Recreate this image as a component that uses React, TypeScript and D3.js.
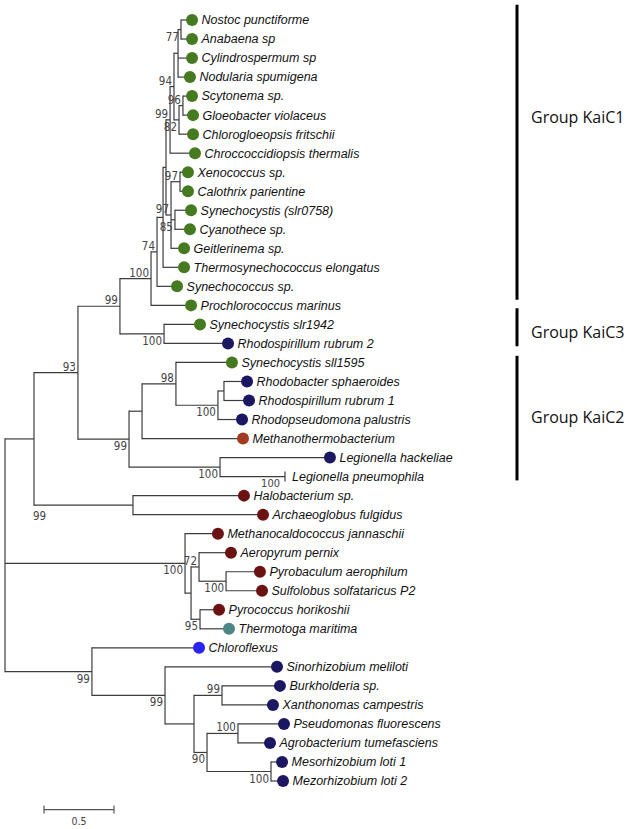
import React from "react";
import * as d3 from "d3";

// ---------- DATA ----------
const taxa = [
  "Nostoc punctiforme", "Anabaena sp", "Cylindrospermum sp", "Nodularia spumigena",
  "Scytonema sp.", "Gloeobacter violaceus", "Chlorogloeopsis fritschii", "Chroccoccidiopsis thermalis",
  "Xenococcus sp.", "Calothrix parientine", "Synechocystis (slr0758)", "Cyanothece sp.",
  "Geitlerinema sp.", "Thermosynechococcus elongatus", "Synechococcus sp.", "Prochlorococcus marinus",
  "Synechocystis slr1942", "Rhodospirillum rubrum 2", "Synechocystis sll1595", "Rhodobacter sphaeroides",
  "Rhodospirillum rubrum 1", "Rhodopseudomona palustris", "Methanothermobacterium", "Legionella hackeliae",
  "Legionella pneumophila", "Halobacterium sp.", "Archaeoglobus fulgidus", "Methanocaldococcus jannaschii",
  "Aeropyrum pernix", "Pyrobaculum aerophilum", "Sulfolobus solfataricus P2", "Pyrococcus horikoshii",
  "Thermotoga maritima", "Chloroflexus", "Sinorhizobium meliloti", "Burkholderia sp.",
  "Xanthonomas campestris", "Pseudomonas fluorescens", "Agrobacterium tumefasciens", "Mesorhizobium loti 1",
  "Mezorhizobium loti 2",
];
const taxonParent = [
  "NA", "NA", "C1", "C1", "SG", "SG", "N82", "N99t", "XC", "XC", "SC", "SC", "G", "T", "N74", "N100",
  "K3", "K3", "N98", "RR", "RR", "N100c", "N142", "Leg", "Leg", "H", "H", "P", "S", "T2", "T2",
  "N95", "N95", "B", "C", "BX", "BX", "PA", "PA", "M", "M",
];
// distance from root to each tip (substitutions per site)
const tipDepth = [
  1.336, 1.336, 1.336, 1.321, 1.336, 1.343, 1.343, 1.357, 1.307, 1.307, 1.329, 1.321, 1.279, 1.279,
  1.229, 1.329, 1.393, 1.593, 1.621, 1.729, 1.743, 1.693, 1.7, 2.321, 2.0, 1.707, 1.843, 1.521,
  1.614, 1.821, 1.836, 1.529, 1.6, 1.386, 1.943, 1.964, 1.914, 1.993, 1.893, 1.979, 1.986,
];
// c cyanobacteria, p proteobacteria, a archaea, m methanothermobacterium, t thermotoga, f chloroflexus, n none
const taxonKind = [
  "c", "c", "c", "c", "c", "c", "c", "c", "c", "c", "c", "c", "c", "c", "c", "c",
  "c", "p", "c", "p", "p", "p", "m", "p", "n", "a", "a", "a", "a", "a", "a",
  "a", "t", "f", "p", "p", "p", "p", "p", "p", "p",
];

const nodeId = [
  "root", "A", "N93", "N99a", "N100", "N74", "T", "K", "N99t", "N94", "C1", "NA", "N82", "SG",
  "G", "XC", "SC", "K3", "N99b", "N142", "N98", "N100c", "RR", "Leg", "H", "P", "X", "S", "T2",
  "N95", "B", "C", "D", "BX", "E", "PA", "M",
];
const nodeParent = [
  "", "root", "A", "N93", "N99a", "N100", "N74", "T", "K", "N99t", "N94", "C1", "N94", "N82",
  "K", "G", "G", "N99a", "N93", "N99b", "N142", "N98", "N100c", "N99b", "A", "root", "P", "X", "S",
  "X", "root", "B", "C", "D", "D", "E", "E",
];
const nodeDepth = [
  0, 0.207, 0.521, 0.821, 1.043, 1.086, 1.129, 1.15, 1.179, 1.207, 1.236, 1.257, 1.243, 1.271,
  1.186, 1.25, 1.214, 1.136, 0.886, 0.979, 1.221, 1.521, 1.564, 1.536, 0.914, 1.286, 1.329, 1.386, 1.579,
  1.393, 0.621, 1.143, 1.35, 1.55, 1.443, 1.664, 1.9,
];
const nodeSupport = [
  null, null, 93, 99, 100, 74, null, null, 99, 94, null, 77, 82, 96,
  97, 97, 85, 100, 99, null, 98, 100, null, 100, 99, 100, null, 72, 100,
  95, 99, 99, null, 99, 90, 100, 100,
];
// a: above branch, b: below branch, p: below branch at parent end
const supportPlacement = [
  "", "", "a", "a", "a", "a", "", "", "a", "a", "", "b", "b", "a",
  "a", "a", "b", "b", "b", "", "a", "b", "", "b", "p", "b", "", "a", "b",
  "b", "b", "b", "", "a", "b", "a", "b",
];

const tipNoteTaxon = ["Legionella pneumophila"];
const tipNoteText = ["100"];

const groupNames = ["Group KaiC1", "Group KaiC3", "Group KaiC2"];
const groupStartRow = [-0.8, 15.15, 17.65];
const groupEndRow = [14.7, 17.15, 24.2];
const groupLabelRow = [5.1, 16.4, 20.9];

const scaleBarValue = 0.5;

// ---------- STYLE ----------
const kindColor: Record<string, string> = {
  c: "#457a20",
  p: "#1b1760",
  a: "#6b1212",
  m: "#a33a22",
  t: "#4e8585",
  f: "#2a22ee",
};

type TNode = {
  id: string;
  parent: string;
  depth: number;
  leafIndex?: number;
  name?: string;
  kind?: string;
  support?: number | null;
  placement?: string;
  children: TNode[];
  y?: number;
  y0?: number;
  y1?: number;
};

export default function App() {
  const W = 629;
  const H = 829;
  const x = d3.scaleLinear().domain([0, 1]).range([5, 145]);
  const y = d3.scaleLinear().domain([0, taxa.length - 1]).range([20, 781]);

  const map = new Map<string, TNode>();
  nodeId.forEach((id, i) => {
    map.set(id, {
      id,
      parent: nodeParent[i],
      depth: nodeDepth[i],
      support: nodeSupport[i],
      placement: supportPlacement[i],
      children: [],
    });
  });
  const leaves: TNode[] = taxa.map((name, i) => ({
    id: name,
    name,
    parent: taxonParent[i],
    depth: tipDepth[i],
    leafIndex: i,
    kind: taxonKind[i],
    children: [],
  }));
  nodeId.forEach((id, i) => {
    if (nodeParent[i]) map.get(nodeParent[i])!.children.push(map.get(id)!);
  });
  leaves.forEach((l) => map.get(l.parent)!.children.push(l));

  const place = (n: TNode): number => {
    if (n.leafIndex !== undefined) {
      n.y = y(n.leafIndex);
      return n.y;
    }
    const ys = n.children.map(place);
    n.y0 = d3.min(ys)!;
    n.y1 = d3.max(ys)!;
    n.y = (n.y0 + n.y1) / 2;
    return n.y;
  };
  const root = map.get("root")!;
  place(root);

  const internals = nodeId.map((id) => map.get(id)!);
  const all = [...internals, ...leaves];

  const r = 6;
  const stroke = "#3c3c3c";
  const sw = 1.2;
  const supportFont = "'Liberation Sans Narrow', 'Arial Narrow', 'DejaVu Sans Condensed', sans-serif";

  const sbY = y(taxa.length + 0.5);
  const sbX0 = 44;
  const sbX1 = sbX0 + (x(scaleBarValue) - x(0));

  return (
    <svg
      width={W}
      height={H}
      style={{ position: "absolute", left: 0, top: 0, background: "#fff" }}
      fontFamily="'Liberation Sans', Arial, sans-serif"
    >
      <rect width={W} height={H} fill="#fff" />
      {/* horizontal branches */}
      {all
        .filter((n) => n.parent)
        .map((n) => (
          <line
            key={"h" + n.id}
            x1={x(map.get(n.parent)!.depth)}
            x2={x(n.depth)}
            y1={n.y}
            y2={n.y}
            stroke={stroke}
            strokeWidth={sw}
          />
        ))}
      {/* vertical connectors */}
      {internals.map((n) => (
        <line
          key={"v" + n.id}
          x1={x(n.depth)}
          x2={x(n.depth)}
          y1={n.y0! - sw / 2}
          y2={n.y1! + sw / 2}
          stroke={stroke}
          strokeWidth={sw}
        />
      ))}
      {/* tips */}
      {leaves.map((l) =>
        l.kind === "n" ? (
          <line
            key={"tick" + l.id}
            x1={x(l.depth)}
            x2={x(l.depth)}
            y1={l.y! - 5}
            y2={l.y! + 5}
            stroke={stroke}
            strokeWidth={sw}
          />
        ) : (
          <circle key={"c" + l.id} cx={x(l.depth)} cy={l.y} r={r} fill={kindColor[l.kind!]} />
        )
      )}
      {leaves.map((l) => (
        <text
          key={"t" + l.id}
          x={x(l.depth) + (l.kind === "n" ? 7 : r + 3.5)}
          y={l.y}
          dy="0.35em"
          fontSize={12.5}
          fontStyle="italic"
          fill="#111"
        >
          {l.name}
        </text>
      ))}
      {/* bootstrap values */}
      {internals
        .filter((n) => n.support != null)
        .map((n) => {
          let tx = x(n.depth) - 2;
          let ty = n.y! - 6;
          let anchor = "end";
          if (n.placement === "b") ty = n.y! + 7;
          if (n.placement === "p") {
            tx = x(map.get(n.parent)!.depth) - 1;
            ty = n.y! + 10.5;
            anchor = "start";
          }
          return (
            <text
              key={"s" + n.id}
              x={tx}
              y={ty}
              dy="0.35em"
              textAnchor={anchor}
              fontSize={11.5}
              fontFamily={supportFont}
              fill="#444"
            >
              {n.support}
            </text>
          );
        })}
      {tipNoteTaxon.map((t, i) => {
        const l = leaves.find((d) => d.name === t)!;
        return (
          <text
            key={"note" + i}
            x={x(l.depth) - 5}
            y={l.y! + 7}
            dy="0.35em"
            textAnchor="end"
            fontSize={11}
            fontFamily={supportFont}
            fill="#444"
          >
            {tipNoteText[i]}
          </text>
        );
      })}
      {/* group bars */}
      {groupNames.map((g, i) => (
        <g key={"g" + g}>
          <line
            x1={517}
            x2={517}
            y1={y(groupStartRow[i])}
            y2={y(groupEndRow[i])}
            stroke="#000"
            strokeWidth={3}
          />
          <text
            x={531}
            y={y(groupLabelRow[i])}
            dy="0.35em"
            fontSize={16}
            fontFamily="'Open Sans', 'Noto Sans', sans-serif"
            fill="#111"
          >
            {g}
          </text>
        </g>
      ))}
      {/* scale bar */}
      <g stroke="#555" strokeWidth={1.2}>
        <line x1={sbX0} x2={sbX1} y1={sbY} y2={sbY} />
        <line x1={sbX0} x2={sbX0} y1={sbY - 4} y2={sbY + 4} />
        <line x1={sbX1} x2={sbX1} y1={sbY - 4} y2={sbY + 4} />
      </g>
      <text
        x={(sbX0 + sbX1) / 2}
        y={sbY + 12}
        dy="0.35em"
        textAnchor="middle"
        fontSize={10.5}
        fontFamily={supportFont}
        fill="#444"
      >
        {scaleBarValue}
      </text>
    </svg>
  );
}
